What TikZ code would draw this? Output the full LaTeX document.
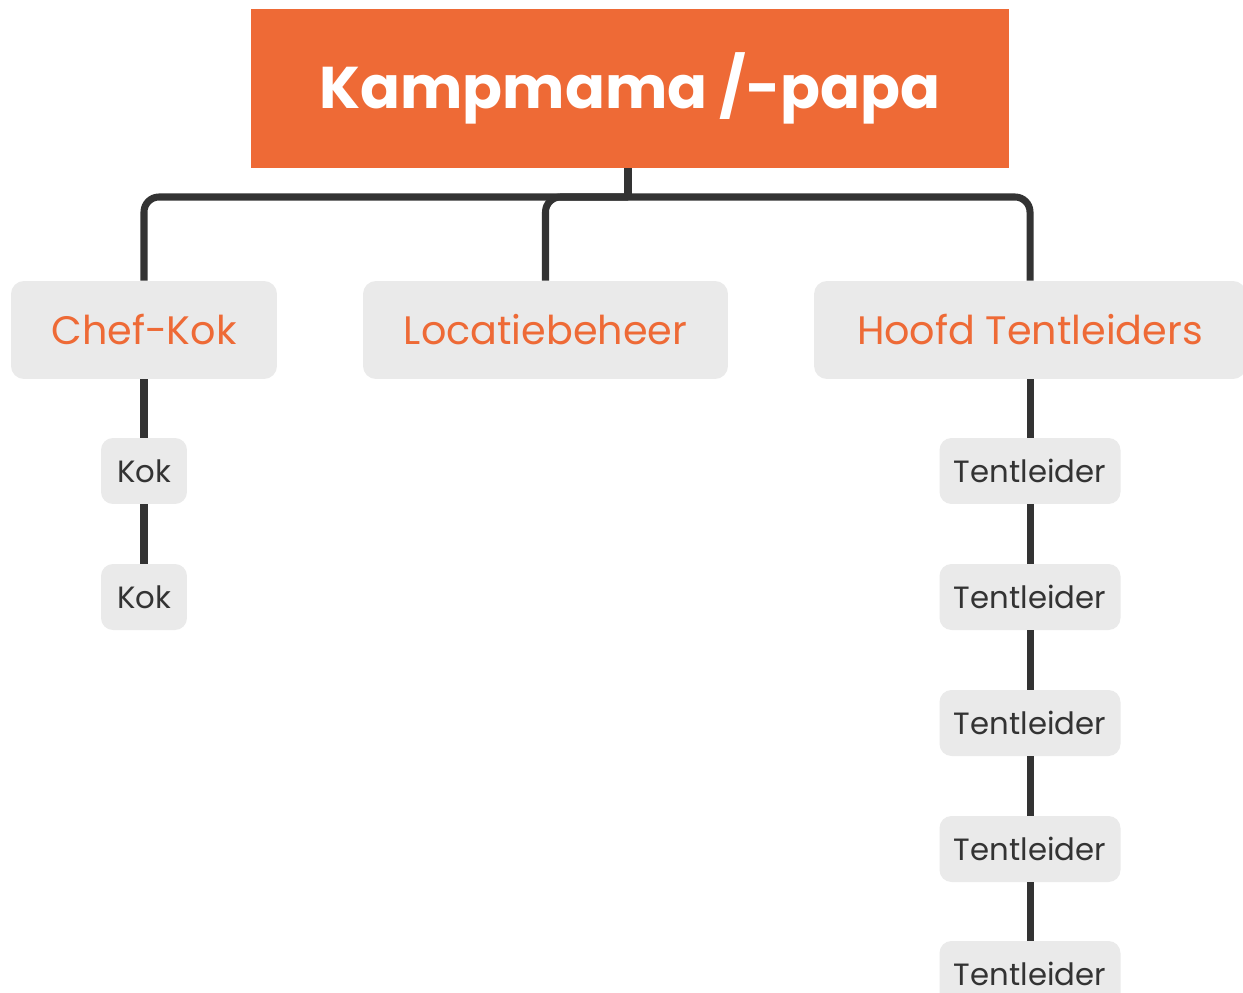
\documentclass[tikz,border=0pt]{standalone}
\usepackage{fontspec}
\setmainfont{Poppins}
\definecolor{kamporange}{HTML}{EE6A36}
\definecolor{boxgrey}{HTML}{EAEAEA}
\definecolor{linegrey}{HTML}{333333}

\begin{document}
\begin{tikzpicture}[x=0.02cm,y=-0.02cm,
    conn/.style={draw=linegrey,line width=4pt},
    head/.style={fill=kamporange,text=white,inner sep=0pt,
      minimum width=15.16cm,minimum height=3.18cm,
      font=\fontsize{33.5}{36}\selectfont\bfseries},
    lead/.style={fill=boxgrey,rounded corners=0.26cm,inner sep=0pt,
      minimum height=1.96cm,text=kamporange,
      font=\fontsize{22.6}{25}\selectfont},
    member/.style={fill=boxgrey,rounded corners=0.24cm,inner sep=0pt,
      minimum height=1.32cm,text=linegrey,
      font=\fontsize{17.5}{20}\selectfont}]
  \useasboundingbox (0,0) rectangle (1243,993);
  \fill[white] (0,0) rectangle (1243,993);
  \node[head]                        (root)    at (630 ,88.5) {Kampmama /-papa};
  \node[lead,minimum width=5.32cm]   (chef)    at (144 ,330) {Chef-Kok};
  \node[lead,minimum width=7.3cm]    (locatie) at (545.5,330) {Locatiebeheer};
  \node[lead,minimum width=8.64cm]   (hoofd)   at (1030,330) {Hoofd Tentleiders};
  \node[member,minimum width=1.72cm] (kokA)    at (144 ,471) {Kok};
  \node[member,minimum width=1.72cm] (kokB)    at (144 ,597) {Kok};
  \node[member,minimum width=3.62cm] (tentA)   at (1030,471) {Tentleider};
  \node[member,minimum width=3.62cm] (tentB)   at (1030,597) {Tentleider};
  \node[member,minimum width=3.62cm] (tentC)   at (1030,723) {Tentleider};
  \node[member,minimum width=3.62cm] (tentD)   at (1030,849) {Tentleider};
  \node[member,minimum width=3.62cm] (tentE)   at (1030,974) {Tentleider};
  \coordinate (bus) at (628,197);
  % tree lines
  \draw[conn] (root.south -| bus) -- (bus);
  \draw[conn,rounded corners=0.3cm] (bus) -| (chef.north);
  \draw[conn,rounded corners=0.3cm] (bus) -| (locatie.north);
  \draw[conn,rounded corners=0.3cm] (bus) -| (hoofd.north);
  \draw[conn] (chef)  -- (kokA);
  \draw[conn] (kokA)  -- (kokB);
  \draw[conn] (hoofd) -- (tentA);
  \draw[conn] (tentA) -- (tentB);
  \draw[conn] (tentB) -- (tentC);
  \draw[conn] (tentC) -- (tentD);
  \draw[conn] (tentD) -- (tentE);
\end{tikzpicture}
\end{document}
